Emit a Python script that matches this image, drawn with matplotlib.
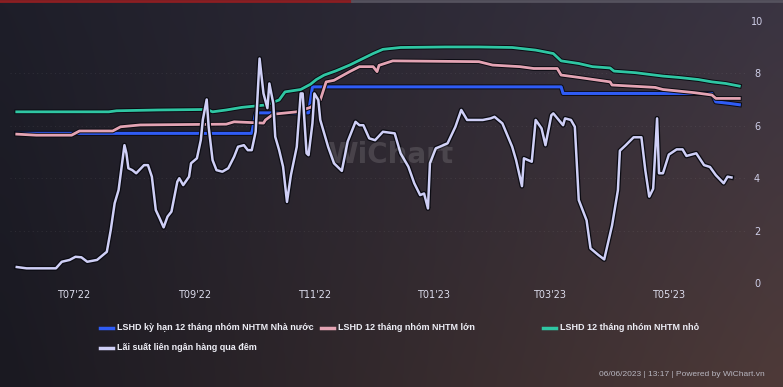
import matplotlib
matplotlib.use("Agg")
import matplotlib.pyplot as plt
import matplotlib.dates as mdates
import matplotlib.patheffects as pe
from matplotlib.lines import Line2D
import numpy as np
import pandas as pd

# ---------------- data ----------------
x_tick_dates = ["2022-07-01", "2022-09-01", "2022-11-01", "2023-01-01", "2023-03-01", "2023-05-01"]
x_tick_labels = ["T07'22", "T09'22", "T11'22", "T01'23", "T03'23", "T05'23"]
y_ticks = [0, 2, 4, 6, 8, 10]

series_names = [
    "LSHD kỳ hạn 12 tháng nhóm NHTM Nhà nước",
    "LSHD 12 tháng nhóm NHTM lớn",
    "LSHD 12 tháng nhóm NHTM nhỏ",
    "Lãi suất liên ngân hàng qua đêm",
]

state_banks = [("2022-06-02", 5.71), ("2022-09-30", 5.71), ("2022-10-02", 6.49), ("2022-10-29", 6.49),
               ("2022-10-31", 7.48), ("2023-03-07", 7.48), ("2023-03-08", 7.23), ("2023-05-23", 7.23),
               ("2023-05-25", 6.91), ("2023-06-01", 6.85), ("2023-06-06", 6.80)]

large_banks = [("2022-06-02", 5.68), ("2022-06-12", 5.64), ("2022-06-30", 5.64), ("2022-07-04", 5.80),
               ("2022-07-21", 5.80), ("2022-07-25", 5.96), ("2022-08-04", 6.03), ("2022-09-17", 6.06),
               ("2022-09-21", 6.15), ("2022-10-06", 6.10), ("2022-10-07", 6.22), ("2022-10-11", 6.44),
               ("2022-10-23", 6.53), ("2022-10-30", 6.70), ("2022-11-04", 6.98), ("2022-11-07", 7.67),
               ("2022-11-11", 7.73), ("2022-11-19", 8.06), ("2022-11-24", 8.25), ("2022-12-01", 8.25),
               ("2022-12-03", 8.06), ("2022-12-04", 8.30), ("2022-12-11", 8.47), ("2023-01-24", 8.44),
               ("2023-01-31", 8.31), ("2023-02-14", 8.25), ("2023-02-21", 8.18), ("2023-03-05", 8.18),
               ("2023-03-07", 7.93), ("2023-03-16", 7.84), ("2023-04-01", 7.67), ("2023-04-02", 7.55),
               ("2023-04-24", 7.46), ("2023-04-28", 7.38), ("2023-05-14", 7.26), ("2023-05-23", 7.17),
               ("2023-05-25", 7.04), ("2023-06-06", 7.04)]

small_banks = [("2022-06-02", 6.53), ("2022-07-19", 6.53), ("2022-07-23", 6.57), ("2022-08-13", 6.60),
               ("2022-09-07", 6.62), ("2022-09-10", 6.53), ("2022-09-17", 6.60), ("2022-09-25", 6.70),
               ("2022-10-07", 6.79), ("2022-10-14", 6.98), ("2022-10-17", 7.29), ("2022-10-25", 7.38),
               ("2022-10-30", 7.58), ("2022-11-02", 7.76), ("2022-11-06", 7.93), ("2022-11-12", 8.09),
               ("2022-11-19", 8.31), ("2022-11-25", 8.53), ("2022-12-01", 8.75), ("2022-12-06", 8.91),
               ("2022-12-15", 8.98), ("2023-01-07", 9.00), ("2023-01-24", 9.00), ("2023-02-10", 8.98),
               ("2023-02-22", 8.88), ("2023-03-03", 8.75), ("2023-03-07", 8.47), ("2023-03-16", 8.37),
               ("2023-03-23", 8.25), ("2023-04-01", 8.20), ("2023-04-03", 8.08), ("2023-04-14", 8.02),
               ("2023-04-28", 7.89), ("2023-05-06", 7.84), ("2023-05-16", 7.76), ("2023-05-23", 7.67),
               ("2023-05-30", 7.61), ("2023-06-06", 7.51)]

overnight = [("2022-06-02", 0.62), ("2022-06-07", 0.57), ("2022-06-22", 0.57), ("2022-06-25", 0.82),
             ("2022-06-29", 0.89), ("2022-07-02", 1.01), ("2022-07-05", 0.99), ("2022-07-08", 0.82),
             ("2022-07-13", 0.89), ("2022-07-18", 1.20), ("2022-07-20", 2.03), ("2022-07-22", 3.05),
             ("2022-07-24", 3.55), ("2022-07-26", 4.69), ("2022-07-27", 5.26), ("2022-07-28", 4.95),
             ("2022-07-29", 4.38), ("2022-07-31", 4.31), ("2022-08-02", 4.19), ("2022-08-06", 4.50),
             ("2022-08-08", 4.50), ("2022-08-10", 4.06), ("2022-08-12", 2.79), ("2022-08-14", 2.47),
             ("2022-08-16", 2.13), ("2022-08-18", 2.54), ("2022-08-20", 2.73), ("2022-08-23", 3.87),
             ("2022-08-24", 4.00), ("2022-08-26", 3.74), ("2022-08-29", 4.06), ("2022-08-30", 4.57),
             ("2022-09-02", 4.76), ("2022-09-04", 5.46), ("2022-09-05", 6.22), ("2022-09-07", 7.00),
             ("2022-09-08", 5.96), ("2022-09-10", 4.69), ("2022-09-12", 4.31), ("2022-09-15", 4.25),
             ("2022-09-18", 4.38), ("2022-09-21", 4.82), ("2022-09-23", 5.20), ("2022-09-26", 5.26),
             ("2022-09-28", 5.07), ("2022-09-30", 5.07), ("2022-10-02", 5.77), ("2022-10-04", 8.56),
             ("2022-10-06", 7.23), ("2022-10-08", 6.67), ("2022-10-09", 7.61), ("2022-10-11", 6.85),
             ("2022-10-12", 5.58), ("2022-10-14", 5.07), ("2022-10-16", 4.44), ("2022-10-18", 3.10),
             ("2022-10-20", 4.12), ("2022-10-23", 5.20), ("2022-10-25", 7.23), ("2022-10-26", 7.23),
             ("2022-10-28", 4.95), ("2022-10-29", 4.88), ("2022-10-31", 6.09), ("2022-11-01", 7.23),
             ("2022-11-03", 6.98), ("2022-11-04", 6.22), ("2022-11-08", 5.20), ("2022-11-11", 4.57),
             ("2022-11-15", 4.28), ("2022-11-18", 5.40), ("2022-11-22", 6.15), ("2022-11-24", 6.02),
             ("2022-11-26", 6.02), ("2022-11-29", 5.52), ("2022-12-02", 5.45), ("2022-12-06", 5.77),
             ("2022-12-12", 5.71), ("2022-12-15", 4.95), ("2022-12-19", 4.44), ("2022-12-22", 3.81),
             ("2022-12-25", 3.36), ("2022-12-27", 3.42), ("2022-12-29", 2.85), ("2022-12-30", 4.57),
             ("2023-01-02", 5.14), ("2023-01-04", 5.20), ("2023-01-08", 5.33), ("2023-01-12", 5.96),
             ("2023-01-15", 6.60), ("2023-01-18", 6.22), ("2023-01-26", 6.22), ("2023-01-30", 6.28),
             ("2023-02-01", 6.34), ("2023-02-05", 6.09), ("2023-02-10", 5.20), ("2023-02-12", 4.69),
             ("2023-02-15", 3.70), ("2023-02-16", 4.76), ("2023-02-20", 4.63), ("2023-02-22", 6.22),
             ("2023-02-25", 5.90), ("2023-02-27", 5.26), ("2023-03-02", 6.40), ("2023-03-03", 6.47),
             ("2023-03-08", 6.02), ("2023-03-09", 6.28), ("2023-03-12", 6.22), ("2023-03-14", 5.96),
             ("2023-03-16", 3.17), ("2023-03-20", 2.40), ("2023-03-22", 1.33), ("2023-03-26", 1.08),
             ("2023-03-29", 0.91), ("2023-04-02", 2.20), ("2023-04-05", 3.55), ("2023-04-06", 5.05),
             ("2023-04-09", 5.26), ("2023-04-13", 5.56), ("2023-04-17", 5.56), ("2023-04-19", 4.30),
             ("2023-04-21", 3.30), ("2023-04-23", 3.60), ("2023-04-25", 6.28), ("2023-04-26", 4.19),
             ("2023-04-28", 4.19), ("2023-05-01", 4.90), ("2023-05-05", 5.10), ("2023-05-08", 5.10),
             ("2023-05-10", 4.85), ("2023-05-15", 4.95), ("2023-05-19", 4.50), ("2023-05-22", 4.43),
             ("2023-05-25", 4.12), ("2023-05-29", 3.81), ("2023-05-31", 4.06), ("2023-06-02", 4.03)]

colors = ["#2f5cf5", "#e3a3b3", "#2fc6a3", "#cfcff6"]

# ---------------- figure ----------------
W, H = 783, 387
fig = plt.figure(figsize=(W / 100, H / 100), dpi=100)

# photographic-looking background gradient
bg = fig.add_axes([0, 0, 1, 1], zorder=-10)
gy, gx = np.mgrid[0:1:60j, 0:1:60j]
tl = np.array([30, 30, 41]); tr = np.array([58, 52, 66])
bl = np.array([26, 25, 33]); br = np.array([78, 58, 56])
img = ((1 - gx)[..., None] * ((1 - gy)[..., None] * tl + gy[..., None] * bl)
       + gx[..., None] * ((1 - gy)[..., None] * tr + gy[..., None] * br)) / 255
bg.imshow(img, aspect="auto", extent=[0, 1, 0, 1], interpolation="bicubic")
bg.set_axis_off()

# top strip
fig.add_artist(Line2D([0, 0.45], [0.997, 0.997], color="#8c1e22", lw=2, transform=fig.transFigure))
fig.add_artist(Line2D([0.45, 1], [0.997, 0.997], color="#55525e", lw=2, transform=fig.transFigure))

px_left, px_right, px_y0, px_y10 = 10, 745, 283.3, 20.7
ax = fig.add_axes([px_left / W, 1 - px_y0 / H, (px_right - px_left) / W, (px_y0 - px_y10) / H])
ax.set_facecolor("none")

d0 = mdates.date2num(pd.Timestamp("2022-06-01"))
ax.set_xlim(d0 - 2.45, d0 + 372.9)
ax.set_ylim(0, 10)

for s in ax.spines.values():
    s.set_visible(False)

ax.yaxis.tick_right()
ax.set_yticks(y_ticks)
ax.set_yticklabels([str(v) for v in y_ticks])
ax.tick_params(axis="y", length=0, pad=8.6, labelsize=7, labelcolor="#cfcfe8")
for t in ax.get_yticklabels():
    t.set_horizontalalignment("center")

ax.set_xticks([mdates.date2num(pd.Timestamp(d)) for d in x_tick_dates])
ax.set_xticklabels(x_tick_labels)
ax.tick_params(axis="x", length=0, pad=5, labelsize=7, labelcolor="#dcdcec")

for v in [2, 4, 6, 8]:
    ax.axhline(v, color="#ffffff", alpha=0.07, lw=0.8, ls=(0, (1, 3)), zorder=0)

# watermark
fig.text(390 / W, 1 - 155 / H, "WiChart", fontsize=20, fontweight="bold",
         color="#ffffff", alpha=0.13, ha="center", va="center", zorder=1)

def draw(data, color, lw, olw, z):
    xs = [mdates.date2num(pd.Timestamp(d)) for d, _ in data]
    ys = [v for _, v in data]
    ax.plot(xs, ys, color=color, lw=lw, zorder=z, solid_joinstyle="round",
            path_effects=[pe.Stroke(linewidth=olw, foreground="#0b0b12"), pe.Normal()])

draw(state_banks, colors[0], 2.2, 3.6, 3)
draw(large_banks, colors[1], 2.0, 3.4, 4)
draw(small_banks, colors[2], 2.0, 3.4, 5)
draw(overnight, colors[3], 1.8, 3.6, 6)

# legend (manual, Highcharts-like placement)
legend_pos = [(100, 328), (321, 328), (543, 328), (100, 348)]
for name, col, (lx, ly) in zip(series_names, colors, legend_pos):
    yf = 1 - ly / H
    fig.add_artist(Line2D([lx / W, (lx + 13) / W], [yf, yf], color=col, lw=2.5,
                          transform=fig.transFigure))
    fig.text((lx + 17) / W, yf, name, fontsize=6.5, fontweight="bold", color="#eeeef6",
             ha="left", va="center", family=["Liberation Sans", "DejaVu Sans"])

fig.text(765 / W, 1 - 375 / H, "06/06/2023 | 13:17 | Powered by WiChart.vn", fontsize=6,
         color="#b8b6c0", ha="right", va="center", family=["Liberation Sans", "DejaVu Sans"])

fig.savefig("out.png", dpi=100)
